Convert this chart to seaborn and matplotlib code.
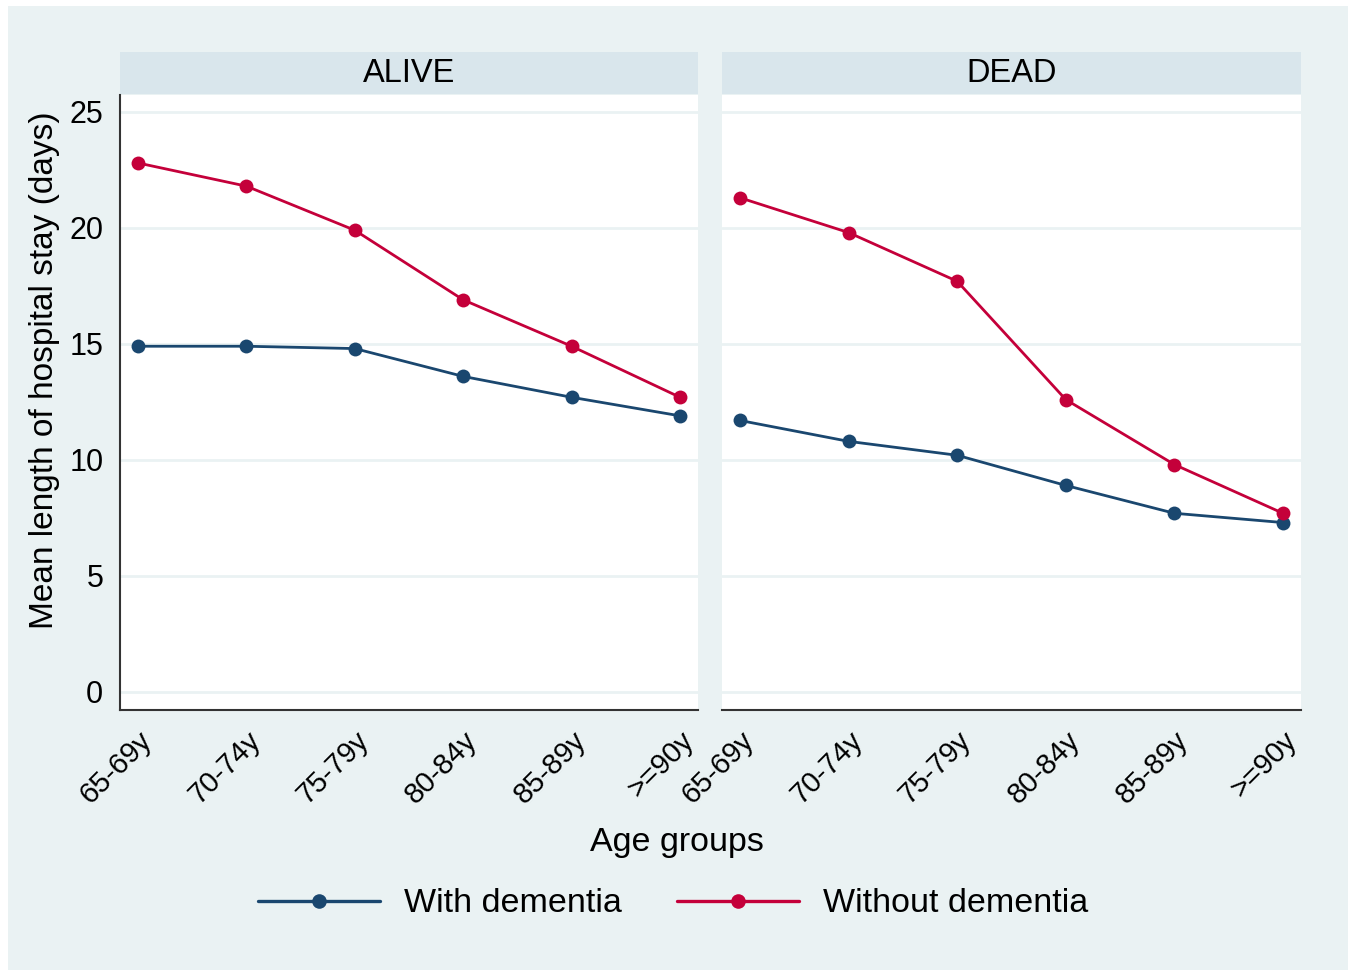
import numpy as np
import pandas as pd
import matplotlib
matplotlib.use("Agg")
import matplotlib.pyplot as plt
from matplotlib.patches import Rectangle
from matplotlib.lines import Line2D
import seaborn as sns

# data
age_groups = ['65-69y', '70-74y', '75-79y', '80-84y', '85-89y', '>=90y']
panels = ['ALIVE', 'DEAD']
groups = ['With dementia', 'Without dementia']

alive_with = [14.9, 14.9, 14.8, 13.6, 12.7, 11.9]
alive_without = [22.8, 21.8, 19.9, 16.9, 14.9, 12.7]
dead_with = [11.7, 10.8, 10.2, 8.9, 7.7, 7.3]
dead_without = [21.3, 19.8, 17.7, 12.6, 9.8, 7.7]

rows = []
for panel, w, wo in [('ALIVE', alive_with, alive_without), ('DEAD', dead_with, dead_without)]:
    for i, a in enumerate(age_groups):
        rows.append({'panel': panel, 'age': a, 'pos': i, 'group': 'With dementia', 'los': w[i]})
        rows.append({'panel': panel, 'age': a, 'pos': i, 'group': 'Without dementia', 'los': wo[i]})
df = pd.DataFrame(rows)

bg = '#EAF2F3'
strip = '#D9E6EC'
palette = {'With dementia': '#1A476F', 'Without dementia': '#C4003A'}

sns.set_style('white')
plt.rcParams['font.family'] = ['Liberation Sans', 'DejaVu Sans']
plt.rcParams['text.color'] = 'black'
plt.rcParams['axes.labelcolor'] = 'black'
plt.rcParams['xtick.color'] = 'black'
plt.rcParams['ytick.color'] = 'black'

fig = plt.figure(figsize=(13.49, 9.74), dpi=100)
fig.patch.set_facecolor('white')
# light background frame (Stata-like)
fig.add_artist(Rectangle((8 / 1349, 1 - 970 / 974), 1340 / 1349, 964 / 974,
                         transform=fig.transFigure, facecolor=bg, edgecolor='none', zorder=0))

W, H = 1349, 974
axes = []
for k, (x0, x1) in enumerate([(120, 698), (722, 1301)]):
    ax = fig.add_axes([x0 / W, 1 - 710 / H, (x1 - x0) / W, (710 - 95) / H])
    axes.append(ax)
    sub = df[df.panel == panels[k]]
    sns.lineplot(data=sub, x='pos', y='los', hue='group', palette=palette, marker='o',
                 markersize=10, markeredgewidth=0, linewidth=2.0, ax=ax, legend=False)
    ax.set_facecolor('white')
    ax.set_xlim(-0.166, 5.166)
    ax.set_ylim(-0.78, 25.73)
    ax.set_yticks([0, 5, 10, 15, 20, 25])
    ax.set_xticks(range(6))
    ax.set_xticklabels(age_groups, rotation=45, ha='right', rotation_mode='anchor', fontsize=21)
    for yv in [0, 5, 10, 15, 20, 25]:
        ax.axhline(yv, color=bg, lw=2, zorder=0)
    for s in ['top', 'right']:
        ax.spines[s].set_visible(False)
    ax.spines['bottom'].set_color('#333333')
    ax.spines['bottom'].set_linewidth(1.5)
    ax.tick_params(axis='x', direction='out', length=9, width=1.5, color='#333333', pad=3)
    if k == 0:
        ax.spines['left'].set_color('#333333')
        ax.spines['left'].set_linewidth(1.5)
        ax.tick_params(axis='y', direction='out', length=9, width=1.5, color='#333333',
                       labelsize=22, pad=3)
        ax.set_ylabel('Mean length of hospital stay (days)', fontsize=24)
        ax.yaxis.set_label_coords(-60 / 578, (710 - 370) / 615)
    else:
        ax.spines['left'].set_visible(False)
        ax.tick_params(axis='y', left=False, labelleft=False)
        ax.set_ylabel('')
    ax.set_xlabel('')
    # panel strip
    ax.add_patch(Rectangle((0, 1.002), 1, 42 / 615, transform=ax.transAxes, facecolor=strip,
                           edgecolor='none', clip_on=False))
    ax.text(0.5, 1.0 + 21 / 615, panels[k], transform=ax.transAxes, ha='center', va='center',
            fontsize=23.5)

fig.text(677 / W, 1 - 842 / H, 'Age groups', ha='center', va='center', fontsize=24.5)

handles = [Line2D([], [], color=palette[g], marker='o', markersize=10.5, markeredgewidth=0, lw=2.4)
           for g in groups]
fig.legend(handles, groups, loc='center', bbox_to_anchor=(673 / W, 1 - 904 / H), ncol=2,
           frameon=False, fontsize=24.5, handlelength=3.6, numpoints=1, columnspacing=1.6,
           handletextpad=0.7)

fig.savefig('out.png', dpi=100, facecolor=fig.get_facecolor())
